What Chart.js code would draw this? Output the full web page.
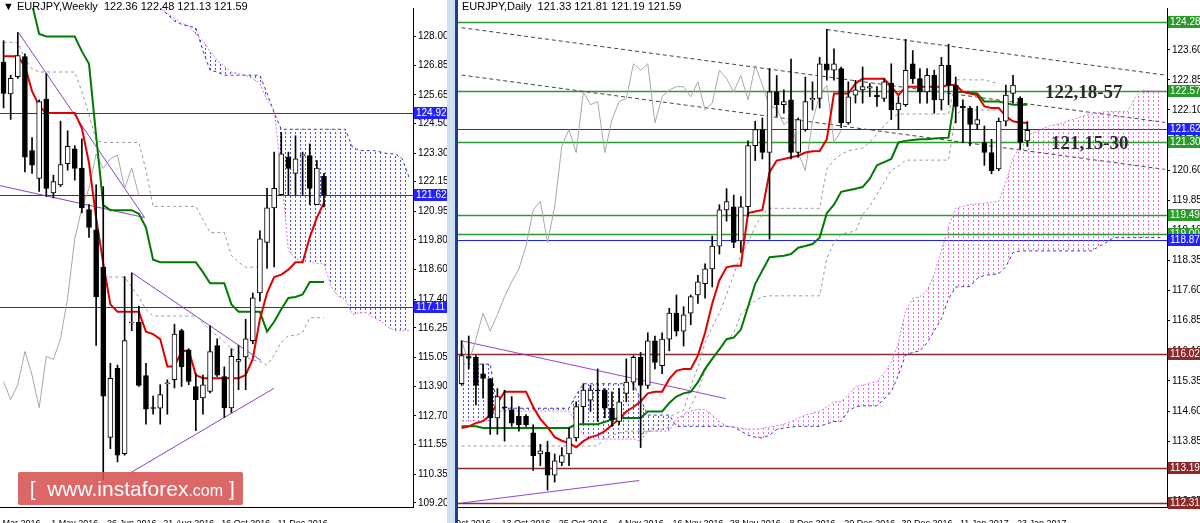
<!DOCTYPE html>
<html>
<head>
<meta charset="utf-8">
<script src="https://cdn.jsdelivr.net/npm/chart.js@4.4.1/dist/chart.umd.min.js"></script>
<style>
  body { margin: 0; background: #fff; width: 1200px; height: 523px; overflow: hidden; position: relative; font-family: "Liberation Sans", Arial, sans-serif; }
  .panel { position: absolute; top: 0; }
  .title { position: absolute; top: 0; font-size: 11px; color: #000; white-space: nowrap; }
  .note { position: absolute; font-family: "Liberation Serif", serif; font-weight: bold; font-size: 19px; color: #2a2a2a; }
  #wm { position: absolute; left: 18px; top: 472px; width: 225px; height: 33px; background: rgba(214,82,82,0.88); border-radius: 2px; color: #fff; font-size: 21px; line-height: 33px; white-space: nowrap; }
  #wm span.c { font-size: 16px; }
</style>
</head>
<body>
<div class="panel" style="left:0;width:455px;height:523px"><canvas id="weekly" width="455" height="523"></canvas></div>
<div style="position:absolute;left:447px;top:0;width:8px;height:523px;background:#cfe0f2"></div>
<div style="position:absolute;left:455px;top:0;width:3px;height:523px;background:#203c8c"></div>
<div class="panel" style="left:458px;width:742px;height:523px"><canvas id="daily" width="742" height="523"></canvas></div>
<div class="title" style="left:3px">&#9660; EURJPY,Weekly&nbsp; 122.36 122.48 121.13 121.59</div>
<div class="title" style="left:462px">EURJPY,Daily&nbsp; 121.33 121.81 121.19 121.59</div>
<div class="note" style="left:1045px;top:81px">122,18-57</div>
<div class="note" style="left:1051px;top:132px">121,15-30</div>
<div id="wm">&nbsp;&nbsp;[&nbsp;&nbsp;www.instaforex<span class="c">.com</span> ]</div>
<script>
// ---------- weekly ----------
const wOpen  = [126.97,125.69,126.38,127.19,123.40,122.28,125.48,121.69,122.02,122.87,123.47,122.70,121.02,120.21,118.69,111.84,114.62,111.18,116.45,116.49,114.33,113.03,113.01,114.00,114.16,116.14,115.35,113.89,113.43,113.69,115.54,114.29,113.03,114.90,115.08,115.74,117.66,119.70,121.09,121.62,123.14,122.48,123.20,123.20,121.22,122.36];
const wHigh  = [127.83,126.44,128.16,127.30,123.93,125.45,126.51,122.41,124.59,124.20,123.60,123.87,121.22,122.02,121.95,114.82,114.75,118.32,118.45,117.13,114.82,113.50,113.96,114.16,116.40,116.20,115.41,114.42,114.35,116.33,115.81,114.68,115.41,115.54,116.60,117.66,120.17,121.88,123.34,124.13,123.34,124.00,123.34,123.67,123.00,122.48];
const wLow   = [125.12,124.66,126.31,122.54,122.48,121.75,121.55,121.49,121.95,122.61,122.21,120.89,119.90,115.54,110.13,111.38,110.85,111.12,116.14,113.89,112.37,112.77,112.37,112.77,113.83,113.89,113.96,112.11,112.77,113.63,114.29,112.64,112.84,113.76,113.76,115.61,117.33,118.65,118.71,121.62,121.62,121.62,121.62,121.22,121.22,121.13];
const wClose = [125.71,126.31,127.23,123.14,122.81,125.38,121.88,122.15,122.84,123.57,122.68,121.09,120.30,117.50,113.50,114.22,111.12,115.74,116.47,113.93,112.97,113.00,113.56,114.02,116.00,114.68,114.09,113.36,113.96,115.30,114.35,113.03,115.11,114.98,115.81,117.46,119.84,121.09,121.88,123.27,122.68,123.07,123.22,121.88,122.70,121.59];
const wTenkan = [127.2,127.2,127.2,126.8,125.8,125.2,124.92,124.92,124.92,124.92,124.92,124.3,122.9,120.7,118.85,117.2,116.9,116.9,116.9,116.9,116.1,116.0,115.8,114.7,114.7,115.3,115.35,114.35,114.22,114.22,114.22,114.22,114.22,114.22,114.35,115.0,116.6,117.66,118.3,118.4,118.6,118.9,118.9,119.9,120.7,121.3];
const wKijun = [130.5,130.5,130.5,130.5,129.3,128.1,128.0,128.0,128.0,128.0,128.0,127.4,126.9,124.0,121.2,121.0,121.0,121.0,121.0,120.85,120.3,119.0,118.9,118.9,118.9,118.9,118.9,118.9,118.5,118.05,118.05,118.05,117.2,116.9,116.9,116.9,116.9,116.1,116.5,117.0,117.46,117.5,117.6,118.1,118.1,118.1];
const wUpperGray = [127.76,127.76,127.76,127.1,126.7,126.57,126.57,126.57,126.57,126.57,126.57,125.78,124.85,123.8,123.73,123.73,123.73,123.73,123.73,123.73,122.6,121.15,121.15,121.15,121.15,121.15,121.15,121.15,120.62,120.1,120.1,120.1,119.17,118.9,118.7,118.7,118.7];
const wLowerGrayStart = 15;
const wLowerGray = [118.3,118.3,118.3,118.3,117.9,117.5,117.0,116.73,116.73,116.73,116.73,116.73,116.73,116.73,116.47,116.14,115.94,115.68,115.41,115.28,115.08,114.95,114.9,114.75,115.15,115.68,115.94,115.94,116.07,116.66,116.66,116.66];
const wSpanStart = 23;
const wSpanA = [129.15,128.95,128.75,128.55,128.42,128.1,127.83,127.4,127.04,126.8,126.57,126.5,126.44,126.3,126.11,125.44,125.05,122.54,119.37,119.04,118.97,118.91,118.84,118.84,117.92,117.53,117.4,116.8,116.86,116.86,116.66,116.53,116.27,116.14,116.14,116.14];
const wSpanB = [129.15,128.9,128.62,128.49,128.42,128.35,127.43,126.64,126.57,126.44,126.44,126.44,126.44,126.44,126.44,125.71,124.92,124.26,124.26,124.26,124.26,124.26,124.26,124.26,124.26,124.26,124.26,123.53,123.40,123.40,123.40,123.34,123.27,123.27,123.07,122.28];
const wSlots = 58;
const wTicks = [109.20,110.35,111.55,112.70,113.90,115.05,116.25,117.40,118.60,119.80,120.95,122.15,123.30,124.50,125.65,126.85,128.00];
const wDateIdx = [3,11,19,27,35,43];
const wDateText = ['6 Mar 2016','1 May 2016','26 Jun 2016','21 Aug 2016','16 Oct 2016','11 Dec 2016'];
const wBlueLevels = [124.92,121.62,117.11];
const wTrend = [[[3.1,128.16],[20.8,120.7]],[[0.3,122.0],[20.8,120.7]],[[18.9,118.5],[37.1,114.95]],[[18.7,110.39],[39,113.82]]];

// ---------- daily ----------
const dOpen  = [115.28,115.96,115.94,115.53,115.41,114.43,114.70,114.63,114.47,114.47,114.06,113.53,113.57,113.00,113.32,113.53,113.93,114.71,114.87,115.12,115.12,114.67,114.34,115.04,115.32,115.94,115.24,116.35,115.73,116.39,117.04,116.59,117.04,117.49,117.77,118.14,118.71,119.61,119.69,118.84,119.69,121.21,121.61,121.04,122.55,122.23,122.35,121.04,121.61,122.35,122.39,123.25,123.09,123.13,121.78,122.47,122.60,122.64,122.47,122.39,122.77,122.10,122.23,123.25,122.88,122.55,122.96,122.35,123.21,122.72,122.19,122.15,121.74,121.29,121.04,120.63,121.82,122.51,122.39,121.33];
const dHigh  = [116.35,116.47,115.98,115.77,115.41,115.16,115.12,114.96,114.71,114.51,114.26,113.77,113.85,113.53,113.69,114.18,114.83,115.28,115.24,115.65,115.16,115.08,115.16,115.90,115.98,116.06,116.55,116.47,116.55,117.16,117.49,117.20,117.49,117.98,118.27,118.96,119.74,120.14,119.98,119.94,121.33,121.82,121.90,123.13,122.96,122.60,123.37,121.90,122.92,122.80,123.41,124.11,123.62,123.17,122.80,122.84,123.17,122.76,122.68,122.88,123.25,122.43,123.86,123.58,123.13,123.13,123.09,123.41,123.74,122.92,122.35,122.19,122.19,121.70,121.37,121.90,122.72,122.96,122.43,121.81];
const dLow   = [115.24,115.65,114.75,114.92,114.02,114.02,113.85,114.22,114.10,114.22,113.12,113.24,112.63,112.83,113.24,113.24,113.85,114.30,114.59,114.34,114.43,114.22,114.26,114.83,115.12,113.69,115.16,115.65,115.53,116.10,116.47,116.22,116.75,117.28,117.41,117.69,118.51,119.33,118.67,118.55,119.45,120.84,120.88,118.88,121.94,122.02,120.88,120.92,121.57,122.10,122.15,122.84,122.84,121.66,121.74,122.27,122.27,122.43,122.19,122.31,121.86,121.61,122.19,122.76,122.27,122.27,122.02,122.10,122.23,121.78,121.29,121.21,121.61,120.72,120.51,120.59,121.70,122.27,121.12,121.19];
const dClose = [115.98,115.92,115.24,115.41,114.43,114.96,114.68,114.30,114.26,114.26,113.49,113.61,113.00,113.36,113.49,113.93,114.71,115.12,115.12,115.10,114.67,114.38,114.83,115.32,115.94,115.24,116.35,115.81,116.39,117.04,116.59,117.00,117.45,117.82,118.14,118.71,119.61,119.82,118.80,119.69,121.21,121.61,121.04,122.55,122.23,122.31,121.04,121.86,122.31,122.39,123.25,123.09,123.25,121.78,122.43,122.60,122.68,122.68,122.43,122.80,122.10,122.27,123.09,122.88,122.55,122.96,122.35,123.21,122.72,122.19,122.15,121.74,121.86,121.04,120.59,121.82,122.47,122.72,121.29,121.59];
const dTenkan = [114.18,114.22,114.3,114.35,114.5,114.8,115.08,115.08,115.08,115.08,114.7,114.4,114.2,113.95,113.86,113.8,113.7,113.85,113.95,114.0,114.1,114.25,114.4,114.59,114.7,114.84,115.04,115.08,115.08,115.4,115.6,115.65,115.65,115.98,116.55,117.28,117.86,118.18,118.22,118.22,119.53,119.57,119.61,120.55,120.84,120.88,120.92,120.96,121.04,121.07,121.08,121.37,122.51,122.51,122.51,122.76,122.88,122.88,122.88,122.88,122.68,122.47,122.68,122.68,122.68,122.68,122.68,122.68,122.72,122.72,122.55,122.51,122.47,122.19,122.15,122.15,121.94,121.82,121.78,121.78];
const dKijun = [114.22,114.22,114.22,114.18,114.18,114.18,114.18,114.18,114.18,114.18,114.18,114.18,114.18,114.18,114.18,114.18,114.27,114.27,114.27,114.27,114.33,114.39,114.43,114.43,114.43,114.43,114.59,114.59,114.59,114.8,114.96,115.04,115.08,115.32,115.65,115.90,116.14,116.39,116.43,116.63,117.20,117.77,118.10,118.43,118.45,118.47,118.51,118.67,118.71,118.76,118.92,119.53,119.74,120.06,120.10,120.14,120.18,120.39,120.72,120.80,120.88,121.29,121.33,121.35,121.37,121.37,121.39,121.40,121.41,122.55,122.55,122.53,122.51,122.31,122.31,122.31,122.27,122.23,122.23,122.23];
const dSpanA = [114.35,114.35,114.35,114.35,114.35,114.6,114.6,114.6,114.6,114.6,114.6,114.6,114.6,114.6,114.6,114.6,114.3,114.0,113.9,113.9,113.9,113.9,113.9,113.9,113.9,113.85,114.1,114.1,114.1,114.1,114.42,114.5,114.6,114.64,114.64,114.5,114.34,114.22,114.2,114.17,114.15,114.15,114.17,114.2,114.23,114.27,114.33,114.42,114.5,114.55,114.6,114.7,114.83,114.83,115.0,115.2,115.25,115.3,115.33,115.55,115.81,116.3,117.1,117.4,117.45,117.6,118.0,118.6,119.2,119.65,119.7,119.74,119.76,119.78,119.8,119.82,120.3,120.9,121.2,121.45,121.55,121.62,121.7,121.74,121.78,121.85,121.9,121.96,122.0,122.03,122.06,122.06,122.06,122.06,122.4,122.6,122.58,122.57,122.57];
const dSpanB = [115.77,115.77,115.77,115.77,115.77,114.67,114.67,114.67,114.67,114.67,114.67,114.67,114.67,114.67,114.67,114.67,115.0,115.28,115.28,115.28,115.28,115.28,115.28,115.28,115.28,114.9,114.5,114.5,114.5,114.5,114.22,114.22,114.22,114.22,114.22,114.22,114.22,114.22,114.2,114.1,114.0,113.95,113.93,114.0,114.14,114.18,114.2,114.22,114.22,114.22,114.22,114.28,114.34,114.34,114.6,114.71,114.73,114.73,114.73,114.9,115.08,115.5,116.0,116.06,116.1,116.3,116.6,116.9,117.4,117.69,117.7,117.7,117.9,117.98,118.0,118.02,118.2,118.55,118.59,118.59,118.59,118.59,118.59,118.59,118.59,118.59,118.59,118.59,118.59,118.7,118.8,118.92,118.92,118.92,118.92,118.92,118.92,118.92,118.92];
const dUpperGrayStart = 26;
const dUpperGray = [114.02,114.1,114.2,114.35,114.45,114.55,114.62,115.2,115.7,116.3,116.7,117.04,117.5,118.0,118.5,118.8,119.2,119.5,119.65,119.65,119.65,119.65,119.65,119.65,119.65,119.65,120.63,120.85,121.0,121.08,121.12,121.15,121.3,121.5,121.7,121.9,122.0,122.0,122.0,122.0,122.0,122.0,122.0,122.0,122.85,122.85,122.85,122.85,122.85,122.8,122.76];
const dLowerGray = [113.73,113.73,113.73,113.73,113.73,113.73,113.73,113.73,113.73,113.73,113.73,113.73,113.73,113.73,113.73,113.73,113.73,113.73,113.73,113.73,113.93,114.0,114.05,114.1,114.1,114.1,114.1,114.1,114.15,114.2,114.3,114.5,114.7,115.1,115.6,115.9,116.1,116.35,116.55,117.0,117.2,117.35,117.45,117.47,117.47,117.47,117.47,117.47,117.47,117.47,117.47,118.4,118.8,119.0,119.05,119.08,119.5,119.7,120.0,120.3,120.6,120.7,120.85,120.85,120.85,120.85,120.85,120.85,120.85,122.0,122.1,122.1,122.1,122.1,122.1,122.1];
const dSlots = 99;
const dTicks = [112.35,113.10,113.85,114.60,115.35,116.10,116.85,117.60,118.35,119.10,119.85,120.60,121.35,122.10,122.85,123.60];
const dDateIdx = [2,10,18,26,34,42,50,58,66,74,82];
const dDateText = ['3 Oct 2016','13 Oct 2016','25 Oct 2016','4 Nov 2016','16 Nov 2016','28 Nov 2016','8 Dec 2016','20 Dec 2016','30 Dec 2016','11 Jan 2017','23 Jan 2017'];
const dGreenLevels = [124.28,122.57,121.30,119.49,119.00];
const dBlueLevels = [121.62,118.87];
const dRedLevels = [116.02,113.19,112.31];
const dDashTrend = [[[52,124.10],[99.2,122.97]],[[1,124.15],[99.2,121.79]],[[1,122.97],[99.2,120.62]]];
const dPurpleTrend = [[[1,116.35],[37.9,114.91]],[[1,112.31],[25.8,112.87]]];

Chart.defaults.font.family = '"Liberation Sans", Arial, sans-serif';
Chart.defaults.font.size = 10;
Chart.defaults.color = '#000';
Chart.defaults.animation = false;

function pad(start, vals, n) {
  const out = new Array(n).fill(null);
  vals.forEach((v, i) => { out[start - 1 + i] = v; });
  return out;
}

function hatch(color) {
  const c = document.createElement('canvas');
  c.width = 5; c.height = 4;
  const g = c.getContext('2d');
  g.fillStyle = color;
  g.fillRect(0, 0, 1, 2);
  return g.createPattern(c, 'repeat');
}

function candles(o, h, l, c, n, width) {
  return [{
    type: 'bar', data: pad(1, l.map((v, i) => [v, h[i]]), n),
    backgroundColor: '#000', barThickness: 1, grouped: false, order: 1
  }, {
    type: 'bar', data: pad(1, o.map((v, i) => [v, c[i]]), n),
    backgroundColor: o.map((v, i) => c[i] >= v ? '#fff' : '#000'),
    borderColor: '#000', borderWidth: 1, borderSkipped: false,
    barThickness: width, minBarLength: 1, grouped: false, order: 0
  }];
}

function line(data, color, width, dash, order) {
  return { type: 'line', data: data, borderColor: color, borderWidth: width,
    borderDash: dash || [], pointRadius: 0, tension: 0, fill: false, order: order };
}

const overlay = {
  id: 'overlay',
  beforeDatasetsDraw(chart, args, opts) {
    const { ctx, chartArea: a, scales: { x, y } } = chart;
    ctx.save();
    ctx.beginPath(); ctx.rect(a.left, a.top, a.right - a.left, a.bottom - a.top); ctx.clip();
    opts.levels.forEach(([vals, color, w]) => vals.forEach(v => {
      const py = Math.round(y.getPixelForValue(v)) + 0.5;
      ctx.strokeStyle = color; ctx.lineWidth = w;
      ctx.beginPath(); ctx.moveTo(a.left, py); ctx.lineTo(a.right, py); ctx.stroke();
    }));
    opts.trends.forEach(([segs, color, dash]) => segs.forEach(([p, q]) => {
      ctx.strokeStyle = color; ctx.lineWidth = 1; ctx.setLineDash(dash);
      ctx.beginPath();
      ctx.moveTo(x.getPixelForValue(p[0] - 1), y.getPixelForValue(p[1]));
      ctx.lineTo(x.getPixelForValue(q[0] - 1), y.getPixelForValue(q[1]));
      ctx.stroke();
    }));
    ctx.restore();
  },
  afterDraw(chart, args, opts) {
    const { ctx, chartArea: a, scales: { y } } = chart;
    ctx.save();
    ctx.font = '10px "Liberation Sans", Arial, sans-serif';
    ctx.textBaseline = 'middle';
    opts.levels.forEach(([vals, color]) => vals.forEach(v => {
      const py = Math.round(y.getPixelForValue(v));
      ctx.fillStyle = color;
      ctx.fillRect(a.right + 1, py - 6, opts.boxW, 12);
      ctx.fillStyle = '#fff';
      ctx.fillText(v.toFixed(2), a.right + 3, py + 0.5);
    }));
    ctx.restore();
  }
};

function makeChart(id, cfg) {
  const labels = Array.from({ length: cfg.n }, (_, i) => String(i + 1));
  return new Chart(document.getElementById(id), {
    type: 'bar',
    data: { labels: labels, datasets: cfg.datasets },
    options: {
      responsive: false,
      layout: { padding: 0 },
      plugins: { legend: { display: false }, tooltip: { enabled: false }, overlay: cfg.overlay },
      scales: {
        x: {
          offset: true,
          grid: { display: false },
          border: { color: '#000' },
          afterFit: s => { s.height = 16; },
          ticks: {
            autoSkip: false, maxRotation: 0, padding: 3, font: { size: 9 },
            callback: (v, i) => { const k = cfg.dateIdx.indexOf(i + 1); return k >= 0 ? cfg.dateText[k] : ''; }
          }
        },
        y: {
          position: 'right', min: cfg.min, max: cfg.max,
          grid: { drawOnChartArea: false, tickLength: 3, color: '#000' },
          border: { color: '#000' },
          afterFit: s => { s.width = cfg.axisW; },
          afterBuildTicks: s => { s.ticks = cfg.ticks.map(v => ({ value: v })); },
          ticks: { padding: 2, callback: v => Number(v).toFixed(2) }
        }
      }
    },
    plugins: [overlay]
  });
}

const blueHatch = hatch('rgba(50,50,220,0.85)');
const pinkHatch = hatch('rgba(225,80,225,0.85)');

// dataset order: 0 wick, 1 body, 2 tenkan, 3 kijun, 4 chikou, 5-6 gray, 7 spanA, 8 spanB
const wChikou = pad(1, wClose.slice(26), wSlots);
makeChart('weekly', {
  n: wSlots, min: 109.03, max: 129.15, ticks: wTicks, axisW: 42,
  dateIdx: wDateIdx, dateText: wDateText,
  datasets: [
    ...candles(wOpen, wHigh, wLow, wClose, wSlots, 5),
    line(pad(1, wTenkan, wSlots), '#e00000', 2, null, 3),
    line(pad(1, wKijun, wSlots), '#007a00', 2, null, 4),
    line(wChikou, '#a8a8a8', 1, null, 5),
    line(pad(1, wUpperGray, wSlots), '#999', 1, [3, 3], 6),
    line(pad(wLowerGrayStart, wLowerGray, wSlots), '#999', 1, [3, 3], 6),
    Object.assign(line(pad(wSpanStart, wSpanA, wSlots), '#e070e0', 1, [2, 2], 9),
      { fill: { target: 8, above: blueHatch, below: blueHatch } }),
    line(pad(wSpanStart, wSpanB, wSlots), '#3838b8', 1, [3, 3], 10)
  ],
  overlay: {
    boxW: 40,
    levels: [[wBlueLevels, '#2222ff', 1]],
    trends: [[wTrend, '#8a3fd0', []]]
  }
});

const dChikou = pad(1, dClose.slice(26), dSlots);
makeChart('daily', {
  n: dSlots, min: 112.21, max: 124.64, ticks: dTicks, axisW: 33,
  dateIdx: dDateIdx, dateText: dDateText,
  datasets: [
    ...candles(dOpen, dHigh, dLow, dClose, dSlots, 5),
    line(pad(1, dTenkan, dSlots), '#e00000', 2, null, 3),
    line(pad(1, dKijun, dSlots), '#007a00', 2, null, 4),
    line(dChikou, '#a8a8a8', 1, null, 5),
    line(pad(dUpperGrayStart, dUpperGray, dSlots), '#999', 1, [3, 3], 6),
    line(pad(1, dLowerGray, dSlots), '#999', 1, [3, 3], 6),
    Object.assign(line(dSpanA, '#e070e0', 1, [2, 2], 9),
      { fill: { target: 8, above: pinkHatch, below: blueHatch } }),
    line(dSpanB, '#3838b8', 1, [3, 3], 10)
  ],
  overlay: {
    boxW: 33,
    levels: [[dGreenLevels, '#2a9a2a', 1.5], [dBlueLevels, '#2222ff', 1], [dRedLevels, '#8b2a2a', 1.5]],
    trends: [[dDashTrend, '#444', [4, 3]], [dPurpleTrend, '#9b3fd0', []]]
  }
});
</script>
</body>
</html>
